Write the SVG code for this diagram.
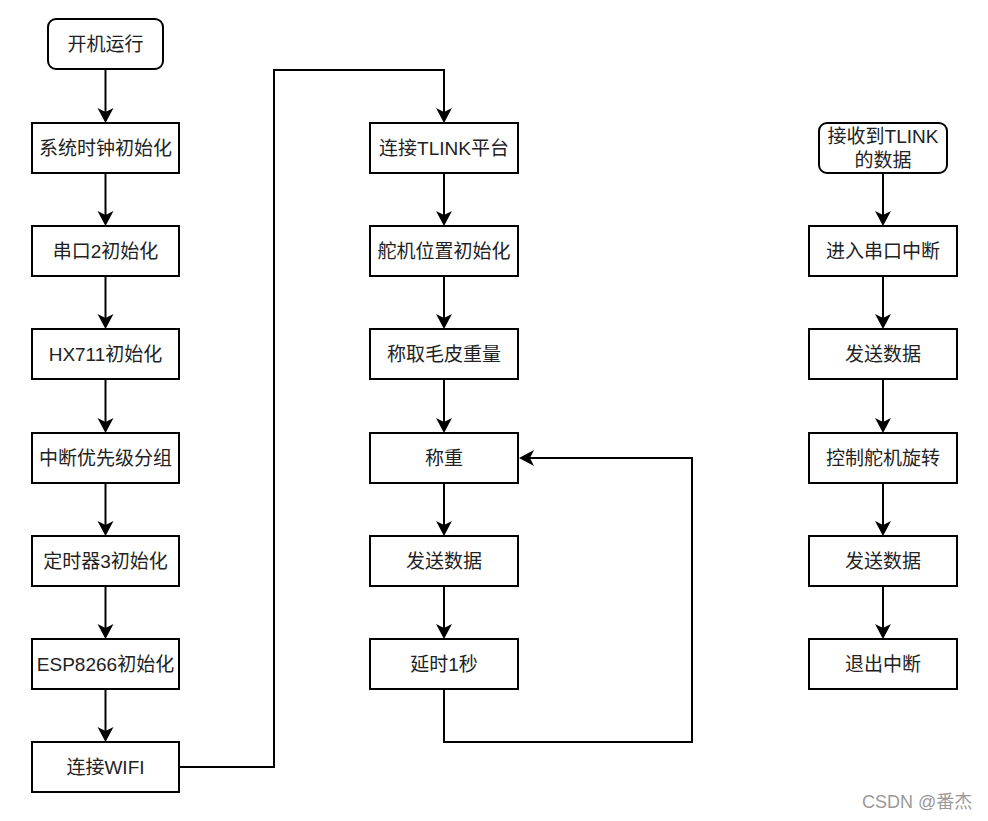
<svg xmlns="http://www.w3.org/2000/svg" width="988" height="821" viewBox="0 0 988 821">
<style>
.b{fill:#fff;stroke:#000;stroke-width:2}
.t{font-family:"Liberation Sans","Noto Sans CJK SC",sans-serif;font-size:19px;fill:#222;text-anchor:middle;dominant-baseline:central}
.c{fill:none;stroke:#000;stroke-width:2;marker-end:url(#a)}
.w{font-family:"Liberation Sans","Noto Sans CJK SC",sans-serif;font-size:18px;fill:#9a9a9a}
</style>
<defs>
<marker id="a" markerUnits="userSpaceOnUse" markerWidth="16" markerHeight="16" viewBox="0 0 16 16" refX="4" refY="8" orient="auto" overflow="visible">
<path d="M0,0 L15,8 L0,16 L4,8 z" fill="#000"/>
</marker>
</defs>
<rect width="988" height="821" fill="#fff"/>
<g id="connectors">
<path class="c" d="M105.5,69 V112"/>
<path class="c" d="M105.5,173 V215"/>
<path class="c" d="M105.5,276 V318"/>
<path class="c" d="M105.5,379 V422"/>
<path class="c" d="M105.5,483 V525"/>
<path class="c" d="M105.5,586 V628"/>
<path class="c" d="M105.5,689 V731"/>
<path class="c" d="M179,767 H274 V70 H444 V112"/>
<path class="c" d="M444,173 V215"/>
<path class="c" d="M444,276 V318"/>
<path class="c" d="M444,379 V422"/>
<path class="c" d="M444,483 V525"/>
<path class="c" d="M444,586 V628"/>
<path class="c" d="M444,689 V742 H692 V458 H530"/>
<path class="c" d="M883,173 V215"/>
<path class="c" d="M883,276 V318"/>
<path class="c" d="M883,379 V422"/>
<path class="c" d="M883,483 V525"/>
<path class="c" d="M883,586 V628"/>
</g>
<g id="n_start"><rect class="b" x="48" y="19" width="115" height="50" rx="8"/><text class="t" x="105.5" y="44">开机运行</text></g>
<g id="n_clock"><rect class="b" x="32" y="123" width="147" height="50"/><text class="t" x="105.5" y="148">系统时钟初始化</text></g>
<g id="n_uart2"><rect class="b" x="32" y="226" width="147" height="50"/><text class="t" x="105.5" y="251">串口2初始化</text></g>
<g id="n_hx711"><rect class="b" x="32" y="329" width="147" height="50"/><text class="t" x="105.5" y="354">HX711初始化</text></g>
<g id="n_nvic"><rect class="b" x="32" y="433" width="147" height="50"/><text class="t" x="105.5" y="458">中断优先级分组</text></g>
<g id="n_tim3"><rect class="b" x="32" y="536" width="147" height="50"/><text class="t" x="105.5" y="561">定时器3初始化</text></g>
<g id="n_esp"><rect class="b" x="32" y="639" width="147" height="50"/><text class="t" x="105.5" y="664">ESP8266初始化</text></g>
<g id="n_wifi"><rect class="b" x="32" y="742" width="147" height="50"/><text class="t" x="105.5" y="767">连接WIFI</text></g>
<g id="n_tlink"><rect class="b" x="370" y="123" width="148" height="50"/><text class="t" x="444" y="148">连接TLINK平台</text></g>
<g id="n_servo"><rect class="b" x="370" y="226" width="148" height="50"/><text class="t" x="444" y="251">舵机位置初始化</text></g>
<g id="n_tare"><rect class="b" x="370" y="329" width="148" height="50"/><text class="t" x="444" y="354">称取毛皮重量</text></g>
<g id="n_weigh"><rect class="b" x="370" y="433" width="148" height="50"/><text class="t" x="444" y="458">称重</text></g>
<g id="n_send1"><rect class="b" x="370" y="536" width="148" height="50"/><text class="t" x="444" y="561">发送数据</text></g>
<g id="n_delay"><rect class="b" x="370" y="639" width="148" height="50"/><text class="t" x="444" y="664">延时1秒</text></g>
<g id="n_recv"><rect class="b" x="819" y="123" width="128" height="50" rx="8"/><text class="t" x="883" y="136">接收到TLINK</text><text class="t" x="883" y="160">的数据</text></g>
<g id="n_isr"><rect class="b" x="809" y="226" width="148" height="50"/><text class="t" x="883" y="251">进入串口中断</text></g>
<g id="n_send2"><rect class="b" x="809" y="329" width="148" height="50"/><text class="t" x="883" y="354">发送数据</text></g>
<g id="n_rotate"><rect class="b" x="809" y="433" width="148" height="50"/><text class="t" x="883" y="458">控制舵机旋转</text></g>
<g id="n_send3"><rect class="b" x="809" y="536" width="148" height="50"/><text class="t" x="883" y="561">发送数据</text></g>
<g id="n_exit"><rect class="b" x="809" y="639" width="148" height="50"/><text class="t" x="883" y="664">退出中断</text></g>
<text class="w" x="862" y="808">CSDN @番杰</text>
</svg>
